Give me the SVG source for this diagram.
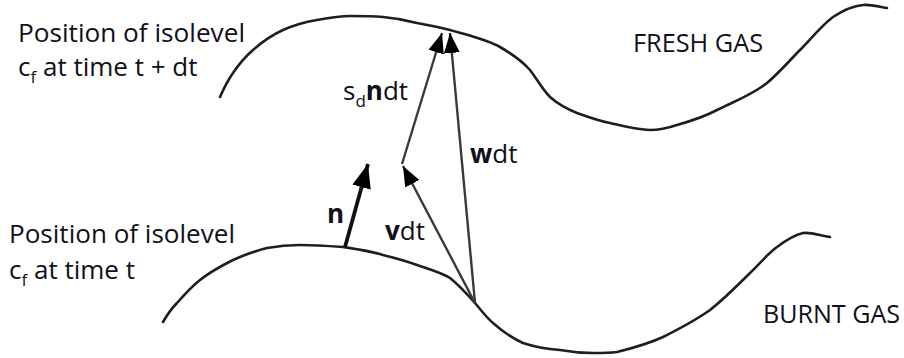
<svg xmlns="http://www.w3.org/2000/svg" width="904" height="358" viewBox="0 0 904 358">
<style>
.curve{fill:none;stroke:#1e1e1e;stroke-width:2.6;stroke-linejoin:round;stroke-linecap:round}
.vec{fill:none;stroke:#3a3a3a;stroke-width:2.4}
.vecb{fill:none;stroke:#111;stroke-width:3.8}
text{font-family:"Open Sans","Liberation Sans",sans-serif;font-size:26px;fill:#10101a}
.sub{font-size:17px}
.b{font-weight:bold}
</style>
<defs>
<marker id="ah" markerUnits="userSpaceOnUse" markerWidth="22" markerHeight="18" refX="20" refY="8" orient="auto" viewBox="0 0 22 16">
<path d="M0,0 L20,8 L0,16 Z" fill="#000"/>
</marker>
<marker id="ahb" markerUnits="userSpaceOnUse" markerWidth="26" markerHeight="20" refX="24" refY="9.5" orient="auto" viewBox="0 0 26 19">
<path d="M0,0 L24,9.5 L0,19 Z" fill="#000"/>
</marker>
</defs>
<g id="isolevel-t-dt">
<path class="curve" d="M220,97 C224,88 228,80 233,73 C239,64 245,57 253,50 C262,42 272,35 283,30 C294,25 305,22 317,20 C328,18 339,16 350,16 C361,16 372,16 383,17 C395,18 406,20 417,23 C428,25 439,27 450,30 C467,35 486,39 500,47 C512,54 522,61 530,70 C537,79 542,89 550,97 C558,104 567,109 577,113 C588,117 599,121 610,123 C623,126 637,130 650,130 C660,130 668,128 677,125 C691,121 704,117 717,110 C735,101 752,95 767,83 C780,72 789,61 800,50 C811,39 821,26 833,17 C842,11 853,6 863,5 C871,4 879,7 887,8"/>
</g>
<g id="isolevel-t">
<path class="curve" d="M163,322 C167,315 171,309 177,303 C184,295 191,287 200,280 C210,272 221,266 233,260 C244,255 255,251 267,248 C278,246 289,245 300,245 C314,245 329,246 343,247 C356,249 370,251 383,255 C395,258 406,261 417,265 C428,269 440,272 450,278 C459,285 467,294 475,303 C481,310 486,317 493,323 C502,331 512,338 523,343 C535,347 547,349 560,350 C571,352 582,353 593,353 C601,353 609,353 617,352 C633,348 648,344 663,337 C679,329 696,320 710,310 C724,299 737,286 750,273 C759,265 767,254 777,247 C785,241 794,235 803,233 C812,232 821,236 830,237"/>
</g>
<g id="connectors">
<line id="n-vec" class="vecb" x1="345" y1="247" x2="368" y2="164" marker-end="url(#ahb)"/>
<line id="v-vec" class="vec" x1="475" y1="303" x2="403" y2="166" marker-end="url(#ah)"/>
<line id="sdn-vec" class="vec" x1="402" y1="164" x2="442" y2="33" marker-end="url(#ah)"/>
<line id="w-vec" class="vec" x1="475" y1="303" x2="450" y2="33" marker-end="url(#ah)"/>
</g>
<g id="labels">
<text x="18" y="42" textLength="227" lengthAdjust="spacingAndGlyphs">Position of isolevel</text>
<text x="18" y="76">c<tspan class="sub" dy="7">f</tspan><tspan dy="-7"> at time t + dt</tspan></text>
<text x="633" y="52" textLength="130" lengthAdjust="spacingAndGlyphs">FRESH GAS</text>
<text x="343" y="100">s<tspan class="sub" dy="7">d</tspan><tspan dy="-7" class="b">n</tspan>dt</text>
<text x="470" y="163"><tspan class="b">w</tspan>dt</text>
<text x="327" y="223" class="b">n</text>
<text x="385" y="240"><tspan class="b">v</tspan>dt</text>
<text x="9" y="243" textLength="226" lengthAdjust="spacingAndGlyphs">Position of isolevel</text>
<text x="9" y="279">c<tspan class="sub" dy="7">f</tspan><tspan dy="-7"> at time t</tspan></text>
<text x="763" y="323" textLength="137" lengthAdjust="spacingAndGlyphs">BURNT GAS</text>
</g>
</svg>
